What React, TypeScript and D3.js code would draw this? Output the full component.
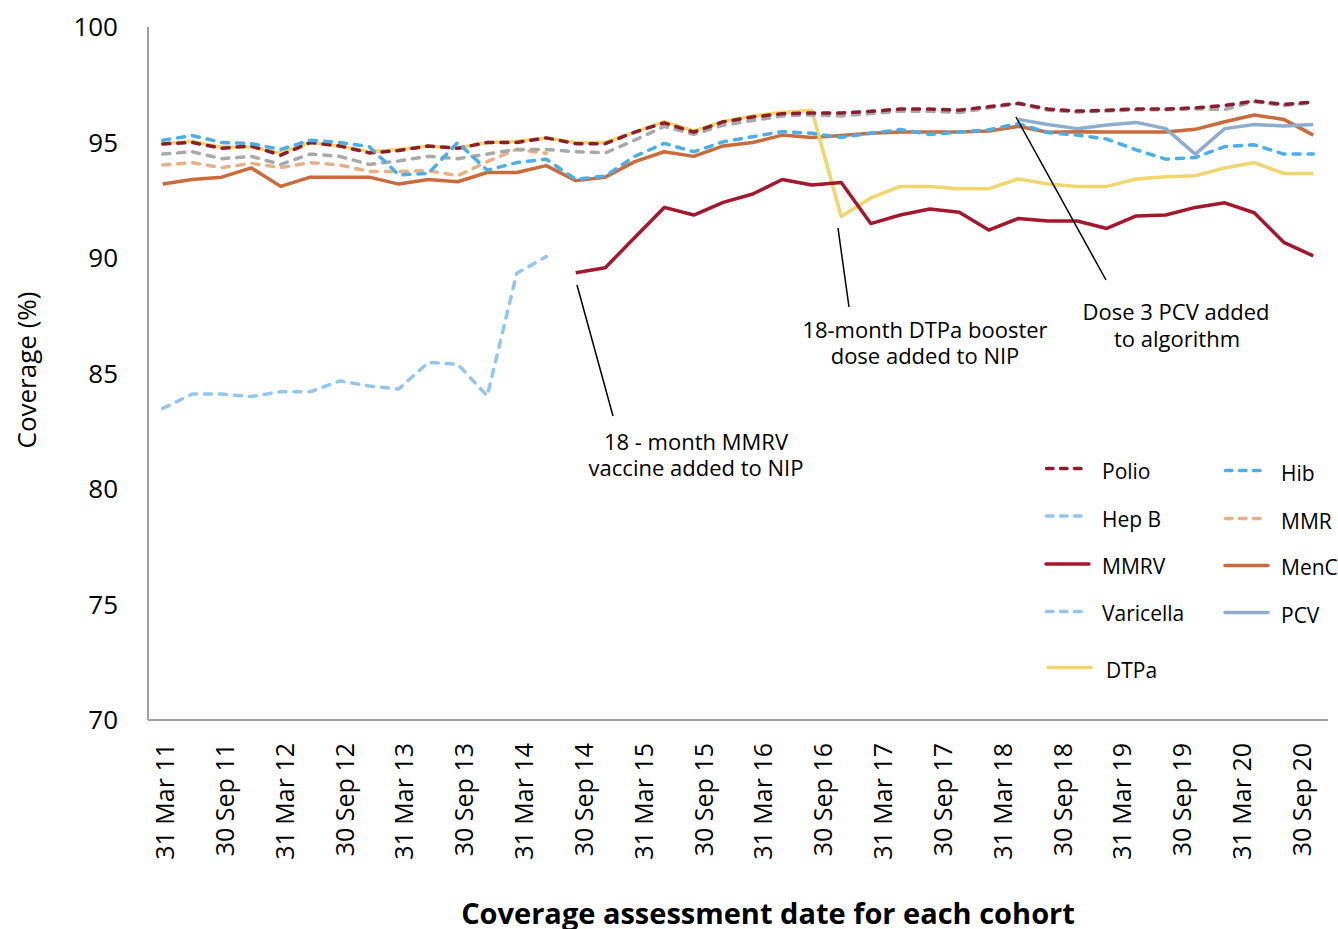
import React from "react";
import * as d3 from "d3";

// ---- data ----
const categories = [
  "31 Mar 11","30 Jun 11","30 Sep 11","31 Dec 11",
  "31 Mar 12","30 Jun 12","30 Sep 12","31 Dec 12",
  "31 Mar 13","30 Jun 13","30 Sep 13","31 Dec 13",
  "31 Mar 14","30 Jun 14","30 Sep 14","31 Dec 14",
  "31 Mar 15","30 Jun 15","30 Sep 15","31 Dec 15",
  "31 Mar 16","30 Jun 16","30 Sep 16","31 Dec 16",
  "31 Mar 17","30 Jun 17","30 Sep 17","31 Dec 17",
  "31 Mar 18","30 Jun 18","30 Sep 18","31 Dec 18",
  "31 Mar 19","30 Jun 19","30 Sep 19","31 Dec 19",
  "31 Mar 20","30 Jun 20","30 Sep 20","31 Dec 20",
];

const tickLabels = [
  "31 Mar 11","30 Sep 11","31 Mar 12","30 Sep 12","31 Mar 13",
  "30 Sep 13","31 Mar 14","30 Sep 14","31 Mar 15","30 Sep 15",
  "31 Mar 16","30 Sep 16","31 Mar 17","30 Sep 17","31 Mar 18",
  "30 Sep 18","31 Mar 19","30 Sep 19","31 Mar 20","30 Sep 20",
];

const yTicks = [70, 75, 80, 85, 90, 95, 100];

const N = null;

const polio = [
  94.94, 95.0, 94.75, 94.85, 94.45, 95.0, 94.85, 94.55, 94.65, 94.85,
  94.75, 95.0, 95.0, 95.2, 94.95, 94.95, 95.45, 95.85, 95.45, 95.9,
  96.1, 96.25, 96.28, 96.28, 96.35, 96.45, 96.45, 96.4, 96.55, 96.7,
  96.45, 96.36, 96.4, 96.45, 96.45, 96.5, 96.6, 96.8, 96.65, 96.75,
];

const unlabelled = [
  94.5, 94.6, 94.3, 94.4, 94.05, 94.5, 94.4, 94.05, 94.2, 94.4,
  94.3, 94.5, 94.7, 94.7, 94.6, 94.55, 95.1, 95.7, 95.35, 95.75,
  95.95, 96.15, 96.2, 96.15, 96.25, 96.35, 96.35, 96.3, 96.5, 96.68,
  96.4, 96.32, 96.36, 96.42, 96.42, 96.46, 96.43, 96.77, 96.6, 96.73,
];

const dtpa = [
  94.95, 95.05, 94.8, 94.8, 94.55, 95.0, 94.85, 94.6, 94.7, 94.85,
  94.75, 95.0, 95.05, 95.2, 95.0, 95.0, 95.45, 95.9, 95.5, 95.9,
  96.15, 96.3, 96.4, 91.8, 92.6, 93.1, 93.1, 93.0, 93.0, 93.42,
  93.2, 93.1, 93.1, 93.42, 93.52, 93.56, 93.9, 94.13, 93.66, 93.66,
];

const hib = [
  95.1, 95.3, 95.0, 94.95, 94.7, 95.1, 95.0, 94.82, 93.6, 93.66,
  95.0, 93.8, 94.13, 94.28, 93.4, 93.55, 94.4, 94.96, 94.6, 95.03,
  95.25, 95.47, 95.4, 95.22, 95.4, 95.56, 95.35, 95.45, 95.55, 95.82,
  95.43, 95.32, 95.15, 94.68, 94.28, 94.35, 94.82, 94.9, 94.5, 94.5,
];

const mmr = [
  94.03, 94.13, 93.91, 94.1, 93.91, 94.13, 94.03, 93.74, 93.74, 93.78,
  93.56, 94.17, 94.7, 94.53, N, N, N, N, N, N,
  N, N, N, N, N, N, N, N, N, N,
  N, N, N, N, N, N, N, N, N, N,
];

const menc = [
  93.2, 93.4, 93.5, 93.9, 93.1, 93.5, 93.5, 93.5, 93.2, 93.4,
  93.3, 93.7, 93.7, 94.0, 93.35, 93.5, 94.17, 94.6, 94.4, 94.85,
  95.0, 95.32, 95.22, 95.3, 95.4, 95.45, 95.45, 95.45, 95.5, 95.7,
  95.44, 95.46, 95.45, 95.45, 95.45, 95.57, 95.9, 96.19, 96.0, 95.32,
];

const hepB = [
  83.49, 84.11, 84.11, 84.0, 84.21, 84.21, 84.68, 84.46, 84.33, 85.48,
  85.4, 84.03, 89.34, 90.06, N, N, N, N, N, N,
  N, N, N, N, N, N, N, N, N, N,
  N, N, N, N, N, N, N, N, N, N,
];

const mmrv = [
  N, N, N, N, N, N, N, N, N, N,
  N, N, N, N, 89.36, 89.58, 90.89, 92.19, 91.86, 92.41,
  92.77, 93.4, 93.16, 93.27, 91.49, 91.86, 92.12, 91.98, 91.21, 91.71,
  91.6, 91.6, 91.28, 91.82, 91.86, 92.19, 92.39, 91.96, 90.68, 90.09,
];

const varicella: (number | null)[] = categories.map(() => null);

const pcv = [
  N, N, N, N, N, N, N, N, N, N,
  N, N, N, N, N, N, N, N, N, N,
  N, N, N, N, N, N, N, N, N, 96.0,
  95.78, 95.6, 95.76, 95.87, 95.6, 94.5, 95.6, 95.78, 95.71, 95.78,
];

// ---- styles ----
const FONT = "'Open Sans', 'Noto Sans', sans-serif";
const C = {
  polio: "#8C1D2E",
  hib: "#4AAEE8",
  hepB: "#92C6EF",
  mmr: "#E8B085",
  mmrv: "#A3182C",
  menc: "#C96B3A",
  varicella: "#92C6EF",
  pcv: "#8EADCD",
  dtpa: "#F0D66C",
  gray: "#A9A9A9",
};

type Series = { name: string; values: (number | null)[]; color: string; dashed: boolean };

// drawing order (bottom to top)
const drawSeries: Series[] = [
  { name: "Hep B", values: hepB, color: C.hepB, dashed: true },
  { name: "Varicella", values: varicella, color: C.varicella, dashed: true },
  { name: "MMR", values: mmr, color: C.mmr, dashed: true },
  { name: "MenC", values: menc, color: C.menc, dashed: false },
  { name: "DTPa", values: dtpa, color: C.dtpa, dashed: false },
  { name: "", values: unlabelled, color: C.gray, dashed: true },
  { name: "Polio", values: polio, color: C.polio, dashed: true },
  { name: "Hib", values: hib, color: C.hib, dashed: true },
  { name: "MMRV", values: mmrv, color: C.mmrv, dashed: false },
  { name: "PCV", values: pcv, color: C.pcv, dashed: false },
];

const legendCol1 = [
  { name: "Polio", color: C.polio, dashed: true, sy: 468.5, ty: 478.5 },
  { name: "Hep B", color: C.hepB, dashed: true, sy: 516, ty: 526.5 },
  { name: "MMRV", color: C.mmrv, dashed: false, sy: 564, ty: 573.5 },
  { name: "Varicella", color: C.varicella, dashed: true, sy: 611.5, ty: 620.5 },
  { name: "DTPa", color: C.dtpa, dashed: false, sy: 667.5, ty: 677.5 },
];
const legendCol2 = [
  { name: "Hib", color: C.hib, dashed: true, sy: 470.5, ty: 481 },
  { name: "MMR", color: C.mmr, dashed: true, sy: 518.5, ty: 528.5 },
  { name: "MenC", color: C.menc, dashed: false, sy: 565.5, ty: 575 },
  { name: "PCV", color: C.pcv, dashed: false, sy: 612.5, ty: 622.5 },
];

export default function App() {
  const W = 1338, H = 929;
  const left = 148, right = 1328, top = 27, bottom = 720;

  const xBand = d3.scaleBand<string>().domain(categories).range([left, right]).padding(0);
  const cx = (i: number) => (xBand(categories[i]) as number) + xBand.bandwidth() / 2;
  const y = d3.scaleLinear().domain([70, 100]).range([bottom, top]);
  const xLab = d3.scalePoint<string>().domain(tickLabels).range([165, 1302]);

  const line = d3
    .line<number | null>()
    .defined((v) => v != null)
    .x((_, i) => cx(i))
    .y((v) => y(v as number));

  const swatch = (x0: number, yy: number, color: string, dashed: boolean) =>
    dashed ? (
      <line x1={x0 + 1.5} x2={x0 + 37} y1={yy} y2={yy} stroke={color} strokeWidth={3.5}
        strokeDasharray="6.5 7.5" strokeLinecap="round" />
    ) : (
      <line x1={x0 + 1} x2={x0 + 44} y1={yy} y2={yy} stroke={color} strokeWidth={3.5} strokeLinecap="round" />
    );

  return (
    <svg width={W} height={H} style={{ position: "absolute", left: 0, top: 0, display: "block", background: "#fff" }}
      fontFamily={FONT}>
      <rect x={0} y={0} width={W} height={H} fill="#fff" />

      {/* axes */}
      <line x1={left} x2={left} y1={top} y2={bottom} stroke="#A0A0A0" strokeWidth={2} />
      <line x1={left} x2={right} y1={bottom} y2={bottom} stroke="#A0A0A0" strokeWidth={2} />

      {yTicks.map((t) => (
        <text key={t} x={118} y={y(t)} dy="0.36em" textAnchor="end" fontSize={26} fill="#000">
          {t}
        </text>
      ))}

      {tickLabels.map((l) => (
        <text key={l} transform={`translate(${xLab(l)},743) rotate(-90)`} dy="0.36em" textAnchor="end"
          fontSize={25} fill="#000">
          {l}
        </text>
      ))}

      <text transform="translate(27,370) rotate(-90)" dy="0.36em" textAnchor="middle" fontSize={26} fill="#000">
        Coverage (%)
      </text>
      <text x={768} y={924} textAnchor="middle" fontSize={29} fontWeight={700} fill="#000">
        Coverage assessment date for each cohort
      </text>

      {/* series */}
      {drawSeries.map((s, k) => (
        <path key={k} d={line(s.values) || ""} fill="none" stroke={s.color} strokeWidth={3.5}
          strokeLinejoin="round" strokeLinecap={s.dashed ? "round" : "butt"}
          strokeDasharray={s.dashed ? "7 8" : undefined} />
      ))}

      {/* annotations */}
      <g stroke="#000" strokeWidth={1.5}>
        <line x1={577} y1={285} x2={613} y2={416} />
        <line x1={838} y1={228} x2={849} y2={307} />
        <line x1={1016} y1={117} x2={1106} y2={280} />
      </g>
      <g fontSize={22} fill="#000" textAnchor="middle">
        <text x={696} y={449.5}>18 - month MMRV</text>
        <text x={696} y={476}>vaccine added to NIP</text>
        <text x={925} y={337.5}>18-month  DTPa booster</text>
        <text x={925} y={364}>dose added to NIP</text>
        <text x={1176} y={320}>Dose 3 PCV  added</text>
        <text x={1177} y={347}>to algorithm</text>
      </g>

      {/* legend */}
      {legendCol1.map((e) => (
        <g key={e.name}>
          {swatch(e.name === "DTPa" ? 1047 : 1045, e.sy, e.color, e.dashed)}
          <text x={e.name === "DTPa" ? 1106 : 1102} y={e.ty} fontSize={21} fill="#000">{e.name}</text>
        </g>
      ))}
      {legendCol2.map((e) => (
        <g key={e.name}>
          {swatch(1224, e.sy, e.color, e.dashed)}
          <text x={1281} y={e.ty} fontSize={21} fill="#000">{e.name}</text>
        </g>
      ))}
    </svg>
  );
}
